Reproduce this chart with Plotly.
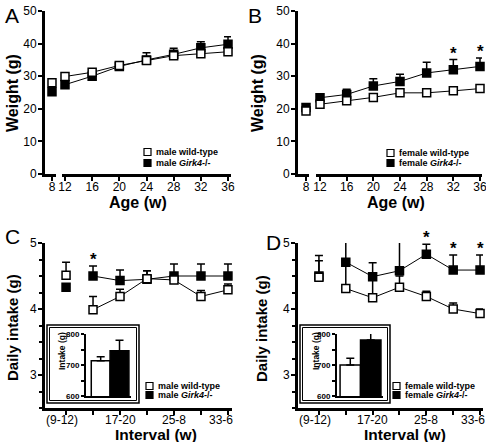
import plotly.graph_objects as go

W, H = 486, 442


def fx(p):
    return p / W


def fy(p):
    return 1 - p / H


# ---------------- data ----------------
ages = [8, 12, 16, 20, 24, 28, 32, 36]
a_wt = [28.0, 29.9, 31.2, 33.3, 34.8, 36.3, 36.9, 37.5]
a_wt_err = [0.7, 0.7, 0.6, 0.7, 0.8, 0.7, 0.8, 0.8]
a_ko = [25.2, 27.4, 30.0, 33.0, 35.0, 36.7, 38.7, 39.8]
a_ko_err = [0.8, 1.0, 0.8, 1.2, 2.2, 1.9, 1.9, 2.3]

b_wt = [19.3, 21.4, 22.5, 23.5, 24.9, 24.9, 25.5, 26.2]
b_wt_err = [0.8, 0.6, 0.6, 0.5, 0.5, 0.6, 0.6, 1.0]
b_ko = [20.4, 23.4, 24.4, 27.0, 28.4, 31.0, 32.0, 33.0]
b_ko_err = [0.6, 0.8, 1.6, 2.2, 2.2, 3.3, 3.1, 2.6]
b_sig = [32, 36]

intervals = ["(9-12)", "13-16", "17-20", "21-24", "25-8", "29-32", "33-6"]
interval_labels = ["(9-12)", "", "17-20", "", "25-8", "", "33-6"]

c_wt = [4.51, 3.99, 4.19, 4.46, 4.44, 4.19, 4.29]
c_wt_err = [0.20, 0.20, 0.11, 0.12, 0.06, 0.09, 0.09]
c_ko = [4.33, 4.50, 4.43, 4.45, 4.50, 4.50, 4.50]
c_ko_err = [0.05, 0.15, 0.16, 0.13, 0.18, 0.18, 0.18]
c_sig = ["13-16"]

d_wt = [4.48, 4.31, 4.17, 4.33, 4.19, 4.00, 3.93]
d_wt_err = [0.25, 0.42, 0.33, 0.17, 0.08, 0.09, 0.07]
d_ko = [4.50, 4.71, 4.49, 4.58, 4.83, 4.59, 4.59]
d_ko_err = [0.31, 0.44, 0.21, 0.49, 0.15, 0.23, 0.23]
d_sig = ["25-8", "29-32", "33-6"]

inset_groups = ["wild-type", "Girk4-/-"]
c_inset = [714, 746]
c_inset_err = [13, 34]
d_inset = [700, 781]
d_inset_err = [22, 29]

FONT = "Liberation Sans, Arial, Helvetica, sans-serif"

# interval categories placed at their index along the axis
ipos = list(range(len(intervals)))

fig = go.Figure()

wt_marker = dict(symbol="square", size=8, color="white", line=dict(color="black", width=1.5))
ko_marker = dict(symbol="square", size=8, color="black", line=dict(color="black", width=1.5))


def err(arr):
    return dict(type="data", symmetric=False, array=arr, arrayminus=[0] * len(arr),
                color="black", thickness=1.5, width=4)


def add_series(x, y, e, marker, xa, ya, line_from):
    # connecting line (not across the axis break / first interval)
    fig.add_trace(go.Scatter(x=x[line_from:], y=y[line_from:], mode="lines",
                             line=dict(color="black", width=1), xaxis=xa, yaxis=ya,
                             showlegend=False, hoverinfo="skip"))
    fig.add_trace(go.Scatter(x=x, y=y, mode="markers", marker=marker, error_y=err(e),
                             xaxis=xa, yaxis=ya, showlegend=False, cliponaxis=False))


def add_weight_panel(wt, wte, ko, koe, xa1, xa2, ya):
    for y, e, mk in ((ko, koe, ko_marker), (wt, wte, wt_marker)):
        # age 8 on the short (broken) segment
        fig.add_trace(go.Scatter(x=ages[:1], y=y[:1], mode="markers", marker=mk,
                                 error_y=err(e[:1]), xaxis=xa1, yaxis=ya,
                                 showlegend=False, cliponaxis=False))
        add_series(ages[1:], y[1:], e[1:], mk, xa2, ya, 0)


add_weight_panel(a_wt, a_wt_err, a_ko, a_ko_err, "x", "x2", "y")
add_weight_panel(b_wt, b_wt_err, b_ko, b_ko_err, "x3", "x4", "y2")

for wt, wte, ko, koe, xa, ya in ((c_wt, c_wt_err, c_ko, c_ko_err, "x5", "y3"),
                                 (d_wt, d_wt_err, d_ko, d_ko_err, "x6", "y4")):
    add_series(ipos, ko, koe, ko_marker, xa, ya, 1)
    add_series(ipos, wt, wte, wt_marker, xa, ya, 1)

for vals, errs, xa, ya in ((c_inset, c_inset_err, "x7", "y5"), (d_inset, d_inset_err, "x8", "y6")):
    fig.add_trace(go.Bar(x=inset_groups, y=vals, width=1, xaxis=xa, yaxis=ya,
                         marker=dict(color=["white", "black"], line=dict(color="black", width=1.5)),
                         error_y=dict(type="data", symmetric=False, array=errs, arrayminus=[0, 0],
                                      color="black", thickness=1.5, width=4),
                         showlegend=False))

# ---------------- axes ----------------
base = dict(showline=True, linecolor="black", linewidth=3, ticks="outside", ticklen=4,
            tickwidth=2, tickcolor="black", showgrid=False, zeroline=False, automargin=False,
            ticklabeloverflow="allow",
            tickfont=dict(family=FONT, size=12, color="black"))
bx = dict(base, ticklabelstandoff=-4)
by = dict(base, ticklabelstandoff=-1)

# interval axes: ticks at every interval, labels written below as text
cat = dict(tickvals=ipos, showticklabels=False)
minor_y = dict(tick0=2.5, dtick=0.25, ticks="outside", ticklen=3, tickwidth=2, tickcolor="black")

layout_axes = {
    # panel A
    "xaxis": dict(bx, domain=[fx(45), fx(56)], range=[6.97, 8.59], tickvals=ages[:1], anchor="y"),
    "xaxis2": dict(bx, domain=[fx(62), fx(231)], range=[11.56, 36.44], tickvals=ages[1:], anchor="y"),
    "yaxis": dict(by, domain=[fy(174), fy(11)], range=[0, 50], dtick=10, anchor="x"),
    # panel B
    "xaxis3": dict(bx, domain=[fx(298), fx(309)], range=[6.8, 8.45], tickvals=ages[:1], anchor="y2"),
    "xaxis4": dict(bx, domain=[fx(316), fx(482)], range=[11.4, 36.3], tickvals=ages[1:], anchor="y2"),
    "yaxis2": dict(by, domain=[fy(174), fy(11)], range=[0, 50], dtick=10, anchor="x3"),
    # panel C
    "xaxis5": dict(bx, **cat, domain=[fx(45), fx(232)], range=[-0.78, 6.15], anchor="y3"),
    "yaxis3": dict(by, domain=[fy(408), fy(243)], range=[2.5, 5], tickvals=[3, 4, 5], anchor="x5",
                   minor=minor_y),
    # panel D
    "xaxis6": dict(bx, **cat, domain=[fx(298), fx(483)], range=[-0.78, 6.11], anchor="y4"),
    "yaxis4": dict(by, domain=[fy(408), fy(243)], range=[2.5, 5], tickvals=[3, 4, 5], anchor="x6",
                   minor=minor_y),
}
inset_x = dict(showline=True, linecolor="black", linewidth=2, ticks="", showticklabels=False,
               showgrid=False, zeroline=False, type="category", automargin=False)
inset_y = dict(showline=True, linecolor="black", linewidth=2, ticks="outside", ticklen=3, tickwidth=1.5,
               tickcolor="black", showgrid=False, zeroline=False, range=[600, 800], tickvals=[600, 700, 800],
               automargin=False, ticklabeloverflow="allow",
               tickfont=dict(family=FONT, size=8, color="black", weight="bold"),
               minor=dict(dtick=50, ticks="outside", ticklen=3, tickwidth=1.5, tickcolor="black"))
layout_axes["xaxis7"] = dict(inset_x, domain=[fx(86), fx(131)], range=[-0.78, 1.61], anchor="y5")
layout_axes["yaxis5"] = dict(inset_y, domain=[fy(396), fy(334)], anchor="x7")
layout_axes["xaxis8"] = dict(inset_x, domain=[fx(337), fx(383)], range=[-0.65, 1.6], anchor="y6")
layout_axes["yaxis6"] = dict(inset_y, domain=[fy(396), fy(334)], anchor="x8")

fig.update_layout(**layout_axes)

# ---------------- text ----------------
ann = []


def text(x, y, s, size, bold=False, angle=0, xanchor="center", yanchor="middle"):
    ann.append(dict(x=fx(x), y=fy(y), xref="paper", yref="paper", text=s, showarrow=False,
                    textangle=angle, xanchor=xanchor, yanchor=yanchor,
                    font=dict(family=FONT, size=size, color="black",
                              weight="bold" if bold else "normal")))


text(3, 2, "A", 21, xanchor="left", yanchor="top")
text(246, 2, "B", 21, xanchor="left", yanchor="top")
text(3, 223, "C", 21, xanchor="left", yanchor="top")
text(264, 229, "D", 21, xanchor="left", yanchor="top")

text(12, 93, "Weight (g)", 16, bold=True, angle=-90)
text(257, 93, "Weight (g)", 16, bold=True, angle=-90)
text(138, 203, "Age (w)", 16, bold=True)
text(396, 203, "Age (w)", 16, bold=True)
text(12, 328, "Daily intake (g)", 15, bold=True, angle=-90)
text(261, 329, "Daily intake (g)", 15, bold=True, angle=-90)
text(156, 434, "Interval (w)", 15.5, bold=True)
text(405, 434, "Interval (w)", 15.5, bold=True)
text(62, 351, "Intake (g)", 8.5, bold=True, angle=-90)
text(316, 351, "Intake (g)", 8.5, bold=True, angle=-90)

# interval tick labels (end labels nudged inward as in the original)
for xa in ("x5", "x6"):
    for i, lab in enumerate(interval_labels):
        if not lab:
            continue
        shift = -4 if i == 0 else (-7 if i == len(interval_labels) - 1 else 0)
        ann.append(dict(x=ipos[i], y=fy(420), xref=xa, yref="paper", text=lab, showarrow=False,
                        xanchor="center", yanchor="middle", xshift=shift,
                        font=dict(family=FONT, size=12, color="black")))

# asterisks from data
for sig, xs, pos, ys, es, xa, ya in ((b_sig, ages, ages, b_ko, b_ko_err, "x4", "y2"),
                                     (c_sig, intervals, ipos, c_ko, c_ko_err, "x5", "y3"),
                                     (d_sig, intervals, ipos, d_ko, d_ko_err, "x6", "y4")):
    for s in sig:
        i = xs.index(s)
        ann.append(dict(x=pos[i], y=ys[i] + es[i], xref=xa, yref=ya, text="*", showarrow=False,
                        xanchor="center", yanchor="bottom", yshift=-5,
                        font=dict(family=FONT, size=17, color="black", weight="bold")))

# legends (keys drawn as small squares, labels as text)
shapes = []
legends = [
    (144, 152, 163, "male wild-type", "male <i>Girk4</i>-/-"),
    (387, 153, 163, "female wild-type", "female <i>Girk4</i>-/-"),
    (146, 386, 395, "male wild-type", "male <i>Girk4</i>-/-"),
    (393, 386, 395, "female wild-type", "female <i>Girk4</i>-/-"),
]
for lx, y1, y2, t1, t2 in legends:
    for yy, t, fill in ((y1, t1, "white"), (y2, t2, "black")):
        shapes.append(dict(type="rect", xref="paper", yref="paper", x0=fx(lx), x1=fx(lx + 7),
                           y0=fy(yy - 3.5), y1=fy(yy + 3.5), line=dict(color="black", width=1.2),
                           fillcolor=fill))
        text(lx + 9.5, yy, t, 9, bold=True, xanchor="left")

# inset frames (double line)
for x0, x1 in ((47, 139), (300, 390)):
    shapes.append(dict(type="rect", xref="paper", yref="paper", x0=fx(x0), x1=fx(x1),
                       y0=fy(403), y1=fy(325), line=dict(color="black", width=1.5)))
    shapes.append(dict(type="rect", xref="paper", yref="paper", x0=fx(x0 + 2.5), x1=fx(x1 - 2.5),
                       y0=fy(400.5), y1=fy(327.5), line=dict(color="black", width=1)))

fig.update_layout(template="none", width=W, height=H, margin=dict(l=0, r=0, t=0, b=0, pad=0),
                  paper_bgcolor="white", plot_bgcolor="rgba(0,0,0,0)",
                  annotations=ann, shapes=shapes, showlegend=False,
                  font=dict(family=FONT, color="black"))

fig.write_html("out.html", config={"displayModeBar": False},
               post_script="document.body.style.margin='0';")
